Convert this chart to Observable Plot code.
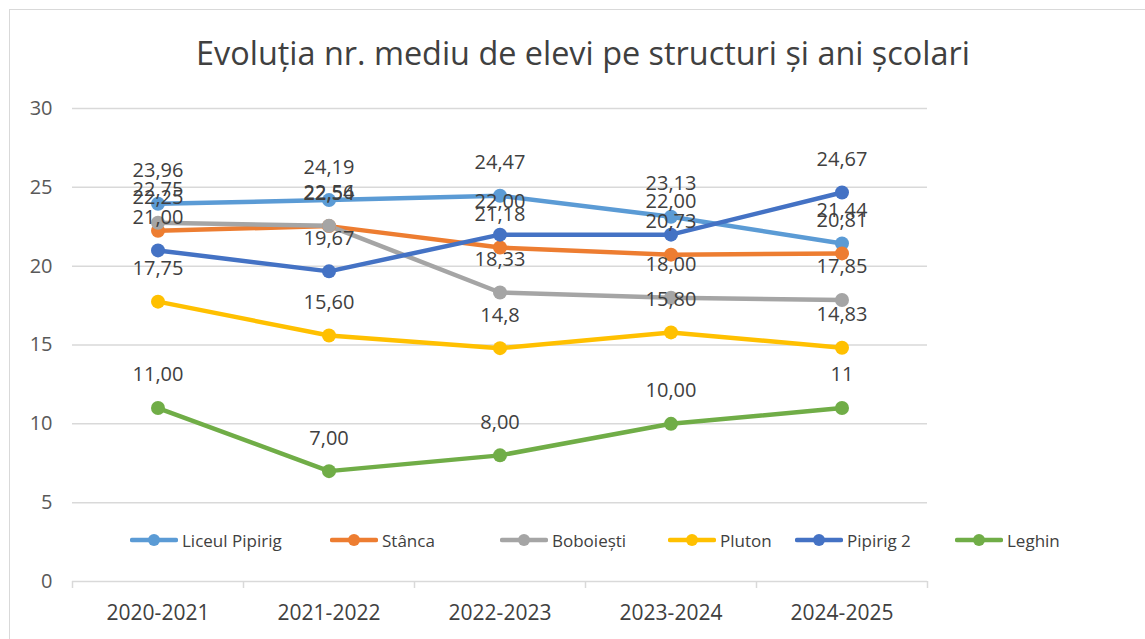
<!DOCTYPE html>
<html>
<head>
<meta charset="utf-8">
<script src="https://cdn.jsdelivr.net/npm/d3@7"></script>
<script src="https://cdn.jsdelivr.net/npm/@observablehq/plot@0.6"></script>
<style>
  html, body { margin: 0; padding: 0; background: #fff; }
  #frame { position: relative; width: 1145px; height: 639px; overflow: hidden; font-family: "Open Sans", "Noto Sans", sans-serif; }
  #border { position: absolute; left: 9px; top: 9px; width: 1200px; height: 700px; border: 1.5px solid #d9d9d9; box-sizing: border-box; }
  #title { position: absolute; left: 0; top: 30px; width: 1166px; text-align: center; font-size: 32.4px; color: #404040; }
  #chart { position: absolute; left: 0; top: 0; }
  #legend { position: absolute; left: 0; top: 528px; width: 1145px; height: 26px; font-size: 17px; color: #404040; }
  .item { position: absolute; top: 0; display: flex; align-items: center; gap: 4px; }
</style>
</head>
<body>
<div id="frame">
  <div id="border"></div>
  <div id="chart"></div>
  <div id="title">Evoluția nr. mediu de elevi pe structuri și ani școlari</div>
  <div id="legend"></div>
</div>
<script>
const years = ["2020-2021", "2021-2022", "2022-2023", "2023-2024", "2024-2025"];
const seriesNames = ["Liceul Pipirig", "Stânca", "Boboiești", "Pluton", "Pipirig 2", "Leghin"];
const seriesColors = ["#5B9BD5", "#ED7D31", "#A5A5A5", "#FFC000", "#4472C4", "#70AD47"];
const liceulPipirig = [23.96, 24.19, 24.47, 23.13, 21.44];
const stanca = [22.25, 22.54, 21.18, 20.73, 20.81];
const boboiesti = [22.75, 22.56, 18.33, 18.00, 17.85];
const pluton = [17.75, 15.60, 14.8, 15.80, 14.83];
const pipirig2 = [21.00, 19.67, 22.00, 22.00, 24.67];
const leghin = [11.00, 7.00, 8.00, 10.00, 11];
const labelOverrides = { "Pluton|2022-2023": "14,8", "Leghin|2024-2025": "11" };
const yTicks = [0, 5, 10, 15, 20, 25, 30];

const allSeries = [liceulPipirig, stanca, boboiesti, pluton, pipirig2, leghin];
const data = [];
allSeries.forEach((vals, s) => {
  vals.forEach((v, i) => {
    const key = seriesNames[s] + "|" + years[i];
    data.push({
      series: seriesNames[s],
      i,
      value: v,
      label: labelOverrides[key] ?? v.toFixed(2).replace(".", ",")
    });
  });
});

const boundaries = d3.range(years.length + 1).map(k => k - 0.5);

const chart = Plot.plot({
  width: 1145,
  height: 639,
  marginLeft: 72,
  marginRight: 218,
  marginTop: 108,
  marginBottom: 58,
  style: { fontFamily: "'Open Sans', 'Noto Sans', sans-serif", background: "transparent", overflow: "visible" },
  x: { type: "linear", domain: [-0.5, years.length - 0.5] },
  y: { domain: [0, 30] },
  color: { domain: seriesNames, range: seriesColors },
  marks: [
    Plot.gridY(yTicks.filter(t => t > 0), { stroke: "#d9d9d9", strokeOpacity: 1, strokeWidth: 1.5 }),
    Plot.axisY(yTicks, { tickSize: 0, tickPadding: 20, fontSize: 20, fill: "#595959", label: null }),
    Plot.ruleY([0], { stroke: "#d9d9d9", strokeWidth: 1.5 }),
    Plot.axisX(boundaries, { tickSize: 7, stroke: "#d9d9d9", strokeWidth: 1.5, tickFormat: () => "", label: null }),
    Plot.axisX(d3.range(years.length), { tickSize: 0, tickPadding: 24, tickFormat: i => years[i], fontSize: 21, fill: "#404040", label: null }),
    Plot.line(data, { x: "i", y: "value", z: "series", stroke: "series", strokeWidth: 4.5, strokeLinejoin: "round", strokeLinecap: "round" }),
    Plot.dot(data, { x: "i", y: "value", fill: "series", r: 7, stroke: "none" }),
    Plot.text(data, { x: "i", y: "value", text: "label", dy: -33, fontSize: 20, fill: "#404040" })
  ]
});
document.getElementById("chart").appendChild(chart);

const legendLefts = [130, 330, 500, 668, 795, 955];
const legend = document.getElementById("legend");
seriesNames.forEach((name, s) => {
  const item = document.createElement("div");
  item.className = "item";
  item.style.left = legendLefts[s] + "px";
  item.innerHTML = `<svg width="48" height="24"><line x1="2" x2="46" y1="12" y2="12" stroke="${seriesColors[s]}" stroke-width="4.5" stroke-linecap="round"/><circle cx="24" cy="12" r="6" fill="${seriesColors[s]}"/></svg><span>${name}</span>`;
  legend.appendChild(item);
});
</script>
</body>
</html>
